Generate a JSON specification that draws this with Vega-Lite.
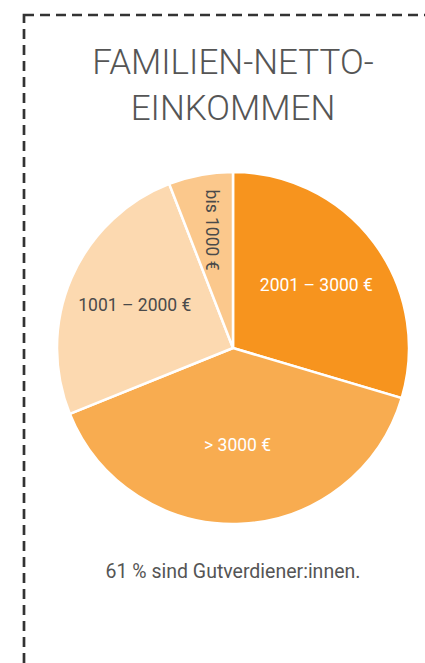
{
  "$schema": "https://vega.github.io/schema/vega-lite/v6.json",
  "width": 418,
  "height": 666,
  "autosize": {"type": "none"},
  "padding": {"left": 24, "top": 15, "right": 0, "bottom": 0},
  "background": "white",
  "config": {"view": {"stroke": null}},
  "title": {
    "text": ["FAMILIEN-NETTO-", "EINKOMMEN"],
    "subtitle": "61 % sind Gutverdiener:innen.",
    "orient": "top",
    "anchor": "middle",
    "frame": "group",
    "offset": -568,
    "font": "Roboto",
    "fontSize": 35,
    "fontWeight": 300,
    "color": "#555555",
    "lineHeight": 46,
    "subtitleFont": "Roboto",
    "subtitleFontSize": 19.5,
    "subtitleFontWeight": 400,
    "subtitleColor": "#555555",
    "subtitlePadding": 436
  },
  "data": {
    "values": [
      {"Einkommen": "2001 – 3000 €", "Anteil": 29.6},
      {"Einkommen": "> 3000 €", "Anteil": 39.3},
      {"Einkommen": "1001 – 2000 €", "Anteil": 25.2},
      {"Einkommen": "bis 1000 €", "Anteil": 5.9}
    ]
  },
  "transform": [{"window": [{"op": "row_number", "as": "Reihenfolge"}]}],
  "encoding": {
    "theta": {"field": "Anteil", "type": "quantitative", "stack": true},
    "order": {"field": "Reihenfolge", "type": "quantitative"}
  },
  "layer": [
    {
      "data": {"values": [{"Rahmen": "Rahmen"}]},
      "mark": {"type": "rect", "filled": false, "fill": null, "stroke": "#333333", "strokeWidth": 2.7, "strokeDash": [10, 6]},
      "encoding": {"theta": null, "order": null}
    },
    {
      "mark": {"type": "arc", "radius": 176, "stroke": "white", "strokeWidth": 2.5},
      "encoding": {
        "color": {
          "field": "Einkommen",
          "type": "nominal",
          "scale": {
            "domain": ["2001 – 3000 €", "> 3000 €", "1001 – 2000 €", "bis 1000 €"],
            "range": ["#F7941E", "#F8AC50", "#FCD9B0", "#FBC88C"]
          },
          "legend": null
        }
      }
    },
    {
      "mark": {"type": "text", "font": "Roboto", "fontSize": 17.5, "radius": 104},
      "encoding": {
        "text": {"condition": {"test": "datum.Einkommen === '2001 – 3000 €'", "field": "Einkommen"}, "value": ""},
        "color": {
          "field": "Einkommen",
          "type": "nominal",
          "scale": {
            "domain": ["2001 – 3000 €", "> 3000 €", "1001 – 2000 €", "bis 1000 €"],
            "range": ["#ffffff", "#ffffff", "#4a4a4a", "#4a4a4a"]
          },
          "legend": null
        }
      }
    },
    {
      "mark": {"type": "text", "font": "Roboto", "fontSize": 17.5, "radius": 98},
      "encoding": {
        "text": {"condition": {"test": "datum.Einkommen === '> 3000 €'", "field": "Einkommen"}, "value": ""},
        "color": {
          "field": "Einkommen",
          "type": "nominal",
          "scale": {
            "domain": ["2001 – 3000 €", "> 3000 €", "1001 – 2000 €", "bis 1000 €"],
            "range": ["#ffffff", "#ffffff", "#4a4a4a", "#4a4a4a"]
          },
          "legend": null
        }
      }
    },
    {
      "mark": {"type": "text", "font": "Roboto", "fontSize": 17.5, "radius": 107},
      "encoding": {
        "text": {"condition": {"test": "datum.Einkommen === '1001 – 2000 €'", "field": "Einkommen"}, "value": ""},
        "color": {
          "field": "Einkommen",
          "type": "nominal",
          "scale": {
            "domain": ["2001 – 3000 €", "> 3000 €", "1001 – 2000 €", "bis 1000 €"],
            "range": ["#ffffff", "#ffffff", "#4a4a4a", "#4a4a4a"]
          },
          "legend": null
        }
      }
    },
    {
      "mark": {"type": "text", "font": "Roboto", "fontSize": 17.5, "radius": 120, "angle": 90},
      "encoding": {
        "text": {"condition": {"test": "datum.Einkommen === 'bis 1000 €'", "field": "Einkommen"}, "value": ""},
        "color": {
          "field": "Einkommen",
          "type": "nominal",
          "scale": {
            "domain": ["2001 – 3000 €", "> 3000 €", "1001 – 2000 €", "bis 1000 €"],
            "range": ["#ffffff", "#ffffff", "#4a4a4a", "#4a4a4a"]
          },
          "legend": null
        }
      }
    }
  ],
  "resolve": {"scale": {"color": "independent"}}
}
